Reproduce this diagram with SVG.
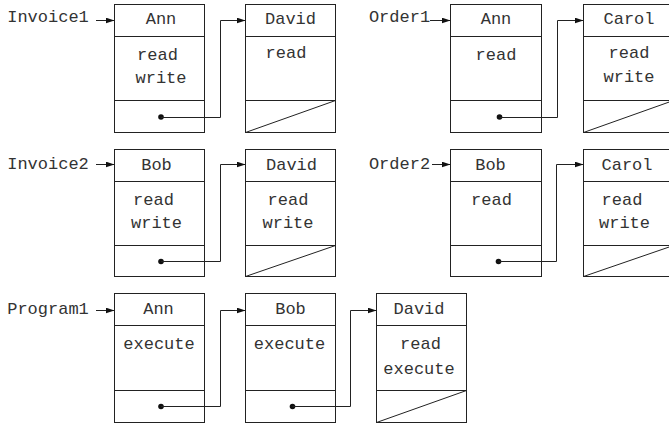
<svg xmlns="http://www.w3.org/2000/svg" width="669" height="424" viewBox="0 0 669 424">
<style>
.box{fill:#fff;stroke:#222;stroke-width:1}
.div{stroke:#222;stroke-width:1;fill:none}
.t{font-family:"Liberation Mono","Courier New",monospace;font-size:17px;fill:#333;text-anchor:middle}
.c{stroke:#222;stroke-width:1;fill:none;marker-end:url(#ah)}
.dot{fill:#111}
</style>
<defs>
<marker id="ah" markerUnits="userSpaceOnUse" markerWidth="9" markerHeight="6" refX="9" refY="3" orient="auto">
<path d="M0,0 L9,3 L0,6 z" fill="#111"/>
</marker>
</defs>
<rect width="669" height="424" fill="#fff"/>

<!-- labels -->
<g id="label-invoice1"><text class="t" x="48" y="22">Invoice1</text></g>
<g id="label-order1"><text class="t" x="399.5" y="22">Order1</text></g>
<g id="label-invoice2"><text class="t" x="48" y="168.5">Invoice2</text></g>
<g id="label-order2"><text class="t" x="399.5" y="168.5">Order2</text></g>
<g id="label-program1"><text class="t" x="48" y="313.5">Program1</text></g>

<!-- row 1 -->
<g id="inv1-ann">
<rect class="box" x="114.5" y="4.5" width="90" height="128"/>
<path class="div" d="M114.5,36.5 H204.5 M114.5,100.5 H204.5"/>
<text class="t" x="161" y="24">Ann</text>
<text class="t" x="157.5" y="60">read</text>
<text class="t" x="161" y="83">write</text>
</g>
<g id="inv1-david">
<rect class="box" x="245.5" y="4.5" width="90" height="128"/>
<path class="div" d="M245.5,36.5 H335.5 M245.5,100.5 H335.5 M245.5,132.5 L335.5,100.5"/>
<text class="t" x="290.5" y="24">David</text>
<text class="t" x="286" y="58">read</text>
</g>
<g id="ord1-ann">
<rect class="box" x="450.5" y="4.5" width="91" height="128"/>
<path class="div" d="M450.5,36.5 H541.5 M450.5,100.5 H541.5"/>
<text class="t" x="496" y="24">Ann</text>
<text class="t" x="496" y="60">read</text>
</g>
<g id="ord1-carol">
<rect class="box" x="583.5" y="4.5" width="90" height="128"/>
<path class="div" d="M583.5,36.5 H673.5 M583.5,100.5 H673.5 M583.5,132.5 L673.5,100.5"/>
<text class="t" x="629" y="24">Carol</text>
<text class="t" x="629" y="58">read</text>
<text class="t" x="629" y="81.5">write</text>
</g>

<!-- row 2 -->
<g id="inv2-bob">
<rect class="box" x="114.5" y="149.5" width="90" height="127"/>
<path class="div" d="M114.5,181.5 H204.5 M114.5,245.5 H204.5"/>
<text class="t" x="156.5" y="169.5">Bob</text>
<text class="t" x="153.5" y="205">read</text>
<text class="t" x="156.5" y="227.5">write</text>
</g>
<g id="inv2-david">
<rect class="box" x="245.5" y="149.5" width="90" height="127"/>
<path class="div" d="M245.5,181.5 H335.5 M245.5,245.5 H335.5 M245.5,276.5 L335.5,245.5"/>
<text class="t" x="291.5" y="169.5">David</text>
<text class="t" x="288" y="205">read</text>
<text class="t" x="288" y="227.5">write</text>
</g>
<g id="ord2-bob">
<rect class="box" x="450.5" y="149.5" width="91" height="127"/>
<path class="div" d="M450.5,181.5 H541.5 M450.5,245.5 H541.5"/>
<text class="t" x="490.5" y="169.5">Bob</text>
<text class="t" x="491.5" y="205">read</text>
</g>
<g id="ord2-carol">
<rect class="box" x="583.5" y="149.5" width="90" height="127"/>
<path class="div" d="M583.5,181.5 H673.5 M583.5,245.5 H673.5 M583.5,276.5 L673.5,245.5"/>
<text class="t" x="627" y="169.5">Carol</text>
<text class="t" x="622" y="205">read</text>
<text class="t" x="624.5" y="227.5">write</text>
</g>

<!-- row 3 -->
<g id="prog1-ann">
<rect class="box" x="114.5" y="293.5" width="90" height="129"/>
<path class="div" d="M114.5,325.5 H204.5 M114.5,390.5 H204.5"/>
<text class="t" x="158.5" y="314">Ann</text>
<text class="t" x="159" y="348.5">execute</text>
</g>
<g id="prog1-bob">
<rect class="box" x="245.5" y="293.5" width="90" height="129"/>
<path class="div" d="M245.5,325.5 H335.5 M245.5,390.5 H335.5"/>
<text class="t" x="290.5" y="314">Bob</text>
<text class="t" x="289.5" y="348.5">execute</text>
</g>
<g id="prog1-david">
<rect class="box" x="376.5" y="293.5" width="90" height="129"/>
<path class="div" d="M376.5,325.5 H466.5 M376.5,390.5 H466.5 M376.5,422.5 L466.5,390.5"/>
<text class="t" x="419" y="314">David</text>
<text class="t" x="420.5" y="348.5">read</text>
<text class="t" x="419" y="373.5">execute</text>
</g>

<!-- connectors -->
<g id="connectors">
<path class="c" d="M96,20.5 H114.5"/>
<path class="c" d="M430,20.5 H450.5"/>
<path class="c" d="M96,164.5 H114.5"/>
<path class="c" d="M432,164.5 H450.5"/>
<path class="c" d="M96,310.5 H114.5"/>

<circle class="dot" cx="161" cy="117" r="2.8"/>
<path class="c" d="M161,117.5 H220.5 V20.5 H245.5"/>
<circle class="dot" cx="499.5" cy="117" r="2.8"/>
<path class="c" d="M499.5,117.5 H557.5 V20.5 H583.5"/>

<circle class="dot" cx="161" cy="261.5" r="2.8"/>
<path class="c" d="M161,261.5 H220.5 V164.5 H245.5"/>
<circle class="dot" cx="498.5" cy="261.5" r="2.8"/>
<path class="c" d="M498.5,261.5 H556.5 V164.5 H583.5"/>

<circle class="dot" cx="161" cy="406.5" r="2.8"/>
<path class="c" d="M161,406.5 H220.5 V310.5 H245.5"/>
<circle class="dot" cx="292.5" cy="406.5" r="2.8"/>
<path class="c" d="M292.5,406.5 H350.5 V310.5 H376.5"/>
</g>
</svg>
